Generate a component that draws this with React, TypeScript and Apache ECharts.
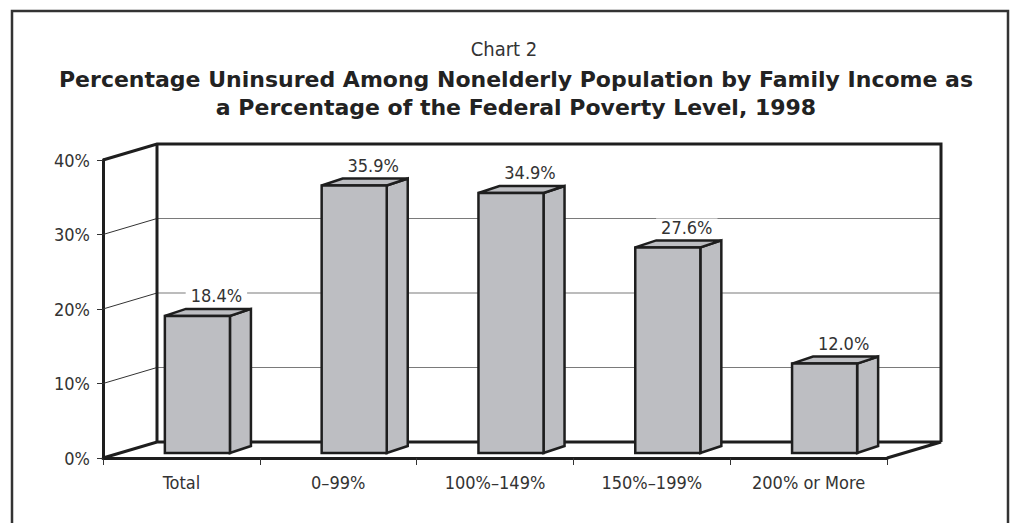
import React, { useEffect, useRef } from "react";
import * as echarts from "echarts";

const categories = ["Total", "0–99%", "100%–149%", "150%–199%", "200% or More"];
const values = [18.4, 35.9, 34.9, 27.6, 12.0];
const yTickValues = [0, 10, 20, 30, 40];
const valueLabels = values.map((v) => v.toFixed(1) + "%");
const chartNumber = "Chart 2";
const titleLine1 = "Percentage Uninsured Among Nonelderly Population by Family Income as";
const titleLine2 = "a Percentage of the Federal Poverty Level, 1998";

const NARROW = "'Liberation Sans Narrow', 'DejaVu Sans Condensed', sans-serif";
const BOLD = "'DejaVu Sans', sans-serif";

export default function App() {
  const ref = useRef<HTMLDivElement>(null);
  useEffect(() => {
    const chart = echarts.init(ref.current!, null, { renderer: "svg" });
    const DX = 54;
    const DY = 16;
    const dark = "#1e1e1e";

    const wallSeries = {
      type: "custom",
      clip: false,
      silent: true,
      z: 1,
      data: [[0, 0]],
      encode: { x: 0, y: 1 },
      renderItem: (params: any, api: any) => {
        const cs = params.coordSys;
        const x0 = cs.x;
        const x1 = cs.x + cs.width;
        const yb = api.coord([0, 0])[1];
        const yt = api.coord([0, yTickValues[yTickValues.length - 1]])[1];
        const children: any[] = [];
        yTickValues.forEach((v) => {
          if (v <= yTickValues[0] || v >= yTickValues[yTickValues.length - 1]) return;
          const y = api.coord([0, v])[1];
          children.push({
            type: "line",
            shape: { x1: x0 + DX, y1: y - DY, x2: x1 + DX, y2: y - DY },
            style: { stroke: "#7a7a7a", lineWidth: 1.2 },
          });
          children.push({
            type: "line",
            shape: { x1: x0, y1: y, x2: x0 + DX, y2: y - DY },
            style: { stroke: "#333", lineWidth: 1 },
          });
        });
        const thick = { stroke: dark, lineWidth: 3, fill: "none", lineJoin: "miter" };
        children.push({
          type: "polyline",
          shape: { points: [[x0, yt], [x0 + DX, yt - DY], [x1 + DX, yt - DY], [x1 + DX, yb - DY]] },
          style: thick,
        });
        children.push({
          type: "polyline",
          shape: { points: [[x0, yb], [x0 + DX, yb - DY], [x1 + DX, yb - DY], [x1, yb]] },
          style: thick,
        });
        children.push({
          type: "line",
          shape: { x1: x0 + DX, y1: yt - DY, x2: x0 + DX, y2: yb - DY },
          style: thick,
        });
        return { type: "group", children };
      },
    };

    const barSeries = {
      type: "custom",
      clip: false,
      z: 5,
      data: values.map((v, i) => [i, v]),
      encode: { x: 0, y: 1 },
      renderItem: (params: any, api: any) => {
        const idx = api.value(0);
        const v = api.value(1);
        const [cx, yBase] = api.coord([idx, 0]);
        const yv = api.coord([idx, v])[1];
        const band = api.size([1, 0])[0];
        const w = band * 0.415;
        const ox = 16, oy = 5, dx = 21, dy = 7;
        const xl = cx + ox - w / 2;
        const xr = xl + w;
        const yB = yBase - oy;
        const yT = yv - oy;
        const st = { fill: "#bdbec2", stroke: dark, lineWidth: 2.5, lineJoin: "miter" };
        return {
          type: "group",
          children: [
            { type: "polygon", shape: { points: [[xr, yT], [xr + dx, yT - dy], [xr + dx, yB - dy], [xr, yB]] }, style: st },
            { type: "polygon", shape: { points: [[xl, yT], [xl + dx, yT - dy], [xr + dx, yT - dy], [xr, yT]] }, style: st },
            { type: "rect", shape: { x: xl, y: yT, width: w, height: yB - yT }, style: st },
            {
              type: "text",
              style: {
                text: valueLabels[idx],
                x: cx + 35,
                y: yT - 20,
                align: "center",
                verticalAlign: "middle",
                font: `18px ${NARROW}`,
                fill: "#333",
                backgroundColor: "#fff",
                padding: [0, 5],
              },
            },
          ],
        };
      },
    };

    chart.setOption({
      animation: false,
      backgroundColor: "#fff",
      title: [
        { text: chartNumber, left: 499, top: 34, textAlign: "center", textStyle: { fontFamily: NARROW, fontSize: 20, fontWeight: "normal", color: "#333" } },
        { text: titleLine1, left: 511, top: 63, textAlign: "center", textStyle: { fontFamily: BOLD, fontSize: 22, fontWeight: "bold", color: "#222" } },
        { text: titleLine2, left: 511, top: 91, textAlign: "center", textStyle: { fontFamily: BOLD, fontSize: 22, fontWeight: "bold", color: "#222" } },
      ],
      grid: { left: 103, top: 160, width: 784, height: 298 },
      xAxis: {
        type: "category",
        data: categories,
        boundaryGap: true,
        axisLine: { lineStyle: { color: dark, width: 3 } },
        axisTick: { show: true, length: 7, lineStyle: { color: "#333", width: 1 } },
        axisLabel: { interval: 0, color: "#333", fontFamily: NARROW, fontSize: 18, margin: 15 },
        splitLine: { show: false },
      },
      yAxis: {
        type: "value",
        min: 0,
        max: 40,
        interval: 10,
        axisLine: { show: true, lineStyle: { color: dark, width: 3 } },
        axisTick: { show: true, length: 6, lineStyle: { color: "#333", width: 1 } },
        axisLabel: { formatter: "{value}%", color: "#333", fontFamily: NARROW, fontSize: 18, margin: 13 },
        splitLine: { show: false },
      },
      graphic: [
        {
          type: "rect",
          silent: true,
          z: 100,
          shape: { x: 12, y: 11, width: 996, height: 540 },
          style: { fill: "none", stroke: "#333", lineWidth: 2.5 },
        },
      ],
      series: [wallSeries, barSeries],
    });
    return () => chart.dispose();
  }, []);
  return <div ref={ref} style={{ position: "fixed", left: 0, top: 0, width: 1011, height: 523 }} />;
}
